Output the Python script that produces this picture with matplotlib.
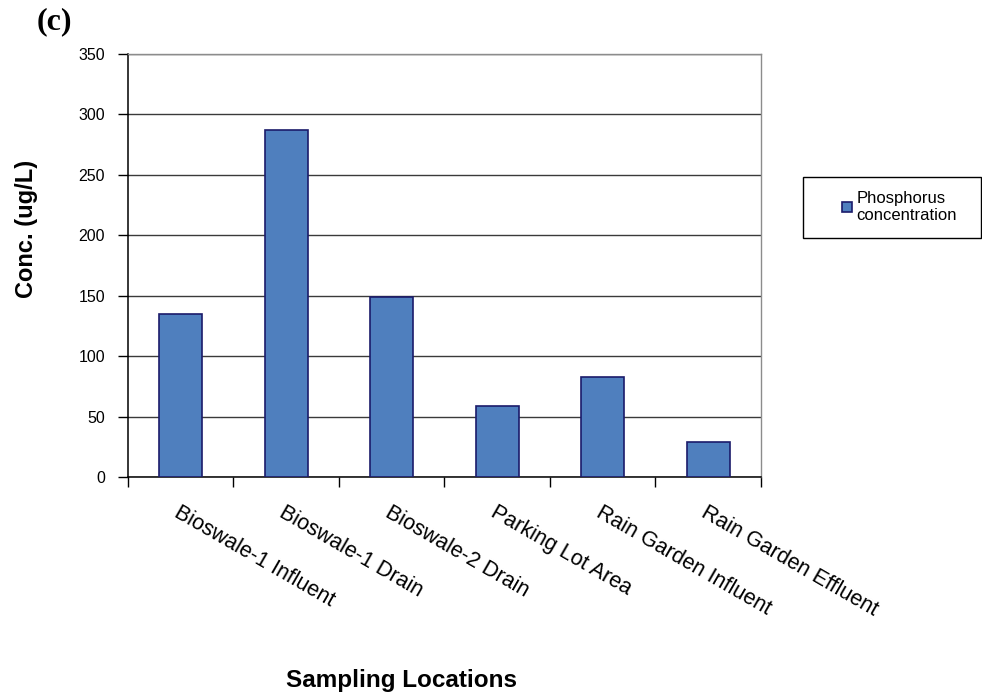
import matplotlib
matplotlib.use("Agg")
import matplotlib.pyplot as plt
from matplotlib.patches import Rectangle
import numpy as np

plt.rcParams['font.family'] = ['Liberation Sans', 'DejaVu Sans']

locations = ["Bioswale-1 Influent", "Bioswale-1 Drain", "Bioswale-2 Drain",
             "Parking Lot Area", "Rain Garden Influent", "Rain Garden Effluent"]
phosphorus = [135, 287, 149, 59, 83, 29]
y_ticks = [0, 50, 100, 150, 200, 250, 300, 350]
series_name = "Phosphorus\nconcentration"

W, H = 982, 698
fig = plt.figure(figsize=(W / 100, H / 100), dpi=100)
ax = fig.add_axes([128 / W, 1 - 477 / H, (761 - 128) / W, (477 - 54) / H])

x = np.arange(len(locations))
bars = ax.bar(x, phosphorus, width=0.41, color="#4F7FBE", edgecolor="#1B1B6B",
              linewidth=1.2, zorder=3, label=series_name)

ax.set_xlim(-0.5, len(locations) - 0.5)
ax.set_ylim(0, 350)
ax.set_yticks(y_ticks)
ax.set_yticklabels([str(v) for v in y_ticks], fontsize=11.5)
ax.yaxis.grid(True, color="#3a3a3a", linewidth=1.0, zorder=0)

# category labels at centres, tick marks at category boundaries
ax.set_xticks(x)
ax.set_xticks(np.arange(-0.5, len(locations)), minor=True)
ax.tick_params(axis="x", which="major", length=0, pad=18)
ax.tick_params(axis="x", which="minor", length=7, width=1.0, direction="out")
ax.tick_params(axis="y", length=7, width=1.0, direction="out", pad=9.5)
ax.set_xticklabels(locations, fontsize=15.5, rotation=-30, ha="left", va="top",
                   rotation_mode="anchor")

for side in ("left", "bottom"):
    ax.spines[side].set_color("black")
    ax.spines[side].set_linewidth(1.1)
for side in ("top", "right"):
    ax.spines[side].set_color("#8c8c8c")
    ax.spines[side].set_linewidth(1.0)

fig.text(27 / W, 1 - 229 / H, "Conc. (ug/L)", rotation=90, ha="center", va="center",
         fontsize=17, fontweight="bold")
fig.text(401 / W, 1 - 681 / H, "Sampling Locations", ha="center", va="center",
         fontsize=17.5, fontweight="bold")
fig.text(54 / W, 1 - 22 / H, "(c)", ha="center", va="center", fontsize=23,
         fontweight="bold", family=["Liberation Serif", "DejaVu Serif"])

# legend box
fig.patches.append(Rectangle((803 / W, 1 - 238 / H), (981 - 803) / W, (238 - 177) / H,
                             transform=fig.transFigure, fill=False,
                             edgecolor="black", linewidth=1.0))
fig.legend(handles=[bars], labels=[series_name], loc="center left",
           bbox_to_anchor=(842 / W, 1 - 207 / H), frameon=False, fontsize=12,
           handlelength=0.6, handleheight=0.6, handletextpad=0.25,
           borderpad=0, borderaxespad=0, labelspacing=0.2)

fig.savefig("out.png", dpi=100)
